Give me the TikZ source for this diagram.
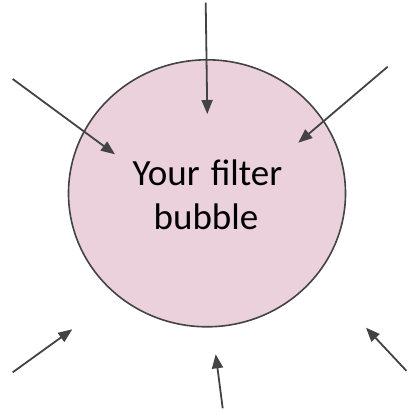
\documentclass[tikz,border=0pt]{standalone}
\usepackage{fontspec}
\setmainfont{Carlito}
\usetikzlibrary{arrows.meta,shapes.geometric}
\definecolor{bubblefill}{HTML}{EAD1DC}
\definecolor{linegray}{HTML}{434343}
\begin{document}
\begin{tikzpicture}[x=1pt,y=-1pt,
  inarrow/.style={draw=linegray,line width=1.8pt,-{Triangle[length=14pt,width=11pt]}},
  label/.style={font=\fontsize{37}{44}\selectfont,inner sep=0pt,anchor=base}]
\useasboundingbox (0,0) rectangle (407,412);
\node[draw=linegray,line width=1.6pt,fill=bubblefill,ellipse,minimum width=277pt,minimum height=267pt,inner sep=0pt] (bubble) at (207,193.3) {};
\node[label] (t1) at (207.5,185.5) {Your\hspace{0.3em}filter};
\node[label] (t2) at (206,229) {bubble};
\coordinate (s1) at (205.7,2.7);   \coordinate (e1) at (207.3,114);
\coordinate (s2) at (12.7,79);     \coordinate (e2) at (115,154.3);
\coordinate (s3) at (387.7,66.7);  \coordinate (e3) at (298.3,142.7);
\coordinate (s4) at (12.7,372.3);  \coordinate (e4) at (72.3,329.3);
\coordinate (s5) at (222.7,408.3); \coordinate (e5) at (215.7,354.3);
\coordinate (s6) at (406.3,370.7); \coordinate (e6) at (366,327.7);
\foreach \i in {1,...,6} {\draw[inarrow] (s\i) -- (e\i);}
\end{tikzpicture}
\end{document}
